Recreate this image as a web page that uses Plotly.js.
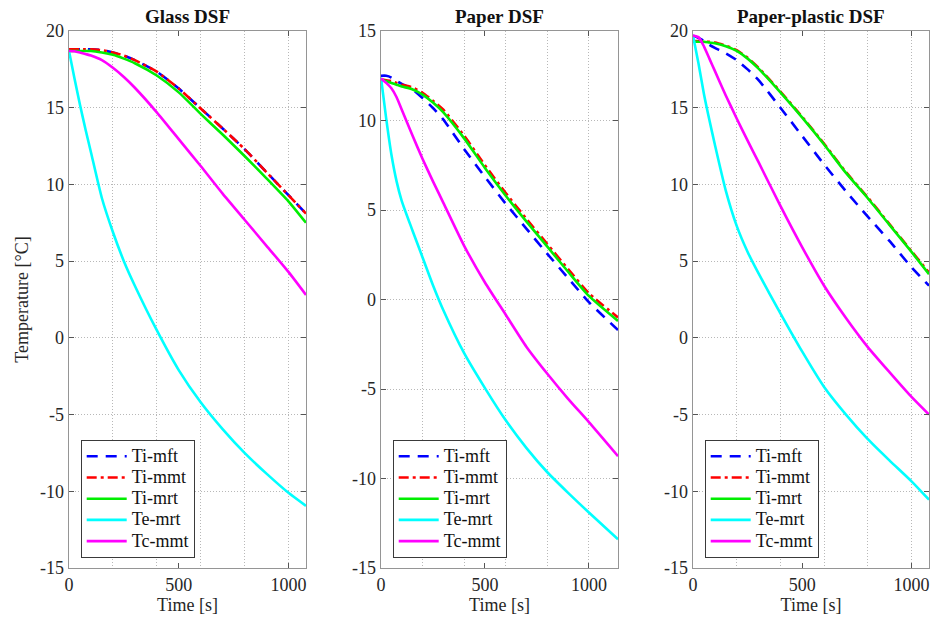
<!DOCTYPE html>
<html>
<head>
<meta charset="utf-8">
<script src="https://cdn.plot.ly/plotly-3.0.1.min.js"></script>
<style>html,body{margin:0;padding:0;background:#fff;}#chart{width:935px;height:629px;}</style>
</head>
<body>
<div id="chart"></div>
<script>
// ---------- data ----------
const seriesNames = ["Ti-mft", "Ti-mmt", "Ti-mrt", "Te-mrt", "Tc-mmt"];
const panelTitles = ["Glass DSF", "Paper DSF", "Paper-plastic DSF"];
const xTickVals = [0, 500, 1000];
const xGridVals = [200, 400, 600, 800, 1000];
const yTickVals = [-15, -10, -5, 0, 5, 10, 15, 20];

// Glass DSF
const glassTime = [0, 25, 50, 75, 100, 150, 200, 250, 300, 400, 500, 600, 700, 800, 900, 1000, 1080];
const glassTiMft = [18.75, 18.8, 18.8, 18.8, 18.8, 18.75, 18.6, 18.4, 18.1, 17.35, 16.25, 14.95, 13.65, 12.3, 10.8, 9.3, 8.1];
const glassTiMmt = [18.8, 18.8, 18.8, 18.8, 18.8, 18.75, 18.6, 18.4, 18.1, 17.35, 16.25, 14.95, 13.65, 12.3, 10.8, 9.3, 8.1];
const glassTiMrt = [18.7, 18.7, 18.7, 18.7, 18.7, 18.6, 18.45, 18.2, 17.9, 17.1, 16.0, 14.6, 13.25, 11.85, 10.4, 8.9, 7.5];
const glassTeMrt = [18.7, 16.9, 15.2, 13.6, 12.1, 9.1, 6.9, 5.0, 3.4, 0.5, -2.1, -4.2, -5.95, -7.5, -8.85, -10.1, -10.95];
const glassTcMmt = [18.7, 18.68, 18.6, 18.5, 18.4, 18.1, 17.6, 17.0, 16.3, 14.7, 12.95, 11.2, 9.4, 7.7, 6.0, 4.3, 2.8];

// Paper DSF
const paperTime = [0, 25, 50, 75, 100, 150, 200, 250, 300, 400, 500, 600, 700, 800, 900, 1000, 1140];
const paperTiMft = [12.5, 12.5, 12.4, 12.2, 12.05, 11.75, 11.25, 10.7, 10.05, 8.4, 6.85, 5.35, 3.95, 2.55, 1.2, -0.15, -1.7];
const paperTiMmt = [12.3, 12.25, 12.2, 12.1, 12.0, 11.85, 11.55, 11.1, 10.6, 9.15, 7.5, 5.95, 4.5, 3.1, 1.7, 0.35, -1.0];
const paperTiMrt = [12.25, 12.2, 12.1, 12.0, 11.9, 11.75, 11.45, 11.0, 10.45, 9.0, 7.35, 5.8, 4.35, 2.95, 1.55, 0.2, -1.2];
const paperTeMrt = [12.4, 10.1, 8.1, 6.6, 5.5, 3.9, 2.35, 0.8, -0.6, -3.0, -4.95, -6.75, -8.3, -9.65, -10.8, -11.9, -13.4];
const paperTcMmt = [12.35, 12.1, 11.8, 11.3, 10.6, 9.2, 7.85, 6.6, 5.4, 3.0, 0.95, -0.85, -2.65, -4.15, -5.55, -6.85, -8.75];

// Paper-plastic DSF
const plasticTime = [0, 25, 50, 75, 100, 150, 200, 250, 300, 400, 500, 600, 700, 800, 900, 1000, 1080];
const plasticTiMft = [19.7, 19.55, 19.35, 19.1, 18.9, 18.55, 18.1, 17.5, 16.8, 15.0, 13.15, 11.3, 9.55, 7.9, 6.3, 4.6, 3.4];
const plasticTiMmt = [19.35, 19.35, 19.3, 19.3, 19.25, 19.05, 18.75, 18.25, 17.6, 16.05, 14.4, 12.65, 10.8, 9.15, 7.4, 5.65, 4.25];
const plasticTiMrt = [19.3, 19.3, 19.3, 19.25, 19.2, 19.0, 18.7, 18.2, 17.55, 16.0, 14.35, 12.6, 10.75, 9.1, 7.35, 5.6, 4.15];
const plasticTeMrt = [19.7, 17.9, 15.9, 14.2, 12.6, 9.6, 7.3, 5.6, 4.2, 1.6, -0.9, -3.2, -5.0, -6.6, -8.0, -9.35, -10.55];
const plasticTcMmt = [19.7, 19.6, 19.0, 18.2, 17.4, 15.8, 14.3, 12.85, 11.45, 8.6, 5.9, 3.4, 1.3, -0.6, -2.25, -3.85, -5.0];

const panels = [
  {time: glassTime, values: [glassTiMft, glassTiMmt, glassTiMrt, glassTeMrt, glassTcMmt], xmax: 1080, ymin: -15, ymax: 20},
  {time: paperTime, values: [paperTiMft, paperTiMmt, paperTiMrt, paperTeMrt, paperTcMmt], xmax: 1140, ymin: -15, ymax: 15},
  {time: plasticTime, values: [plasticTiMft, plasticTiMmt, plasticTiMrt, plasticTeMrt, plasticTcMmt], xmax: 1080, ymin: -15, ymax: 20}
];

// ---------- styles ----------
const W = 935, H = 629;
const styles = [
  {color: "#0000ff", dash: "11px,8px"},
  {color: "#ff0000", dash: "10px,4px,3px,4px"},
  {color: "#00ee00", dash: "solid"},
  {color: "#00ffff", dash: "solid"},
  {color: "#ff00ff", dash: "solid"}
];
const plotBoxes = [[69, 306], [381, 618], [693, 929]];
const plotTop = 31, plotBottom = 568;
const FONT = "'Liberation Serif', 'Times New Roman', serif";
const TXT = "#262626";

const traces = [];
const layout = {
  width: W, height: H,
  margin: {l: 0, r: 0, t: 0, b: 0},
  paper_bgcolor: "#ffffff", plot_bgcolor: "#ffffff",
  font: {family: FONT, size: 18, color: TXT},
  showlegend: true,
  annotations: []
};

panels.forEach((p, i) => {
  const n = i === 0 ? "" : String(i + 1);
  const legendName = "legend" + n;
  p.values.forEach((vals, k) => {
    traces.push({
      type: "scatter", mode: "lines",
      x: p.time, y: vals,
      name: '<span style="font-size:18px">' + seriesNames[k] + '</span>',
      xaxis: "x" + n, yaxis: "y" + n,
      legend: legendName,
      line: {color: styles[k].color, dash: styles[k].dash, width: 2.6, shape: "spline", smoothing: 0.6}
    });
  });
  const box = plotBoxes[i];
  const axisCommon = {
    showline: true, mirror: "ticks", linecolor: "#959595", linewidth: 1.4,
    ticks: "inside", ticklen: 5, tickcolor: "#555", tickwidth: 1,
    zeroline: false, automargin: false,
    tickfont: {family: FONT, size: 18, color: TXT}
  };
  layout["xaxis" + n] = Object.assign({}, axisCommon, {
    domain: [box[0] / W, box[1] / W],
    anchor: "y" + n,
    range: [0, p.xmax],
    tickmode: "array", tickvals: xTickVals, ticktext: xTickVals.map(String),
    showgrid: false,
    minor: {tickmode: "array", tickvals: xGridVals, showgrid: true, gridcolor: "#b8b8b8", griddash: "1px,2px", gridwidth: 1, ticks: ""},
    title: {text: "Time [s]", font: {family: FONT, size: 18, color: TXT}, standoff: 4}
  });
  const yt = yTickVals.filter(v => v >= p.ymin && v <= p.ymax);
  layout["yaxis" + n] = Object.assign({}, axisCommon, {
    domain: [(H - plotBottom) / H, (H - plotTop) / H],
    anchor: "x" + n,
    range: [p.ymin, p.ymax],
    tickmode: "array", tickvals: yt, ticktext: yt.map(String),
    showgrid: true, gridcolor: "#b8b8b8", griddash: "1px,2px", gridwidth: 1,
    title: i === 0 ? {text: "Temperature [°C]", font: {family: FONT, size: 18, color: TXT}, standoff: 6} : {text: ""}
  });
  layout[legendName] = {
    x: (box[0] + 11.7) / W, y: (H - 557.7) / H, xanchor: "left", yanchor: "bottom",
    bgcolor: "#ffffff", bordercolor: "#3a3a3a", borderwidth: 1,
    font: {family: FONT, size: 14, color: "#111"},
    tracegroupgap: 0, itemwidth: 40
  };
  layout.annotations.push({
    xref: "paper", yref: "paper",
    x: (box[0] + box[1]) / 2 / W, y: (H - 17) / H,
    xanchor: "center", yanchor: "middle", showarrow: false,
    text: "<b>" + panelTitles[i] + "</b>",
    font: {family: FONT, size: 19, color: "#111"}
  });
});

Plotly.newPlot("chart", traces, layout, {displayModeBar: false, staticPlot: true});
</script>
</body>
</html>
